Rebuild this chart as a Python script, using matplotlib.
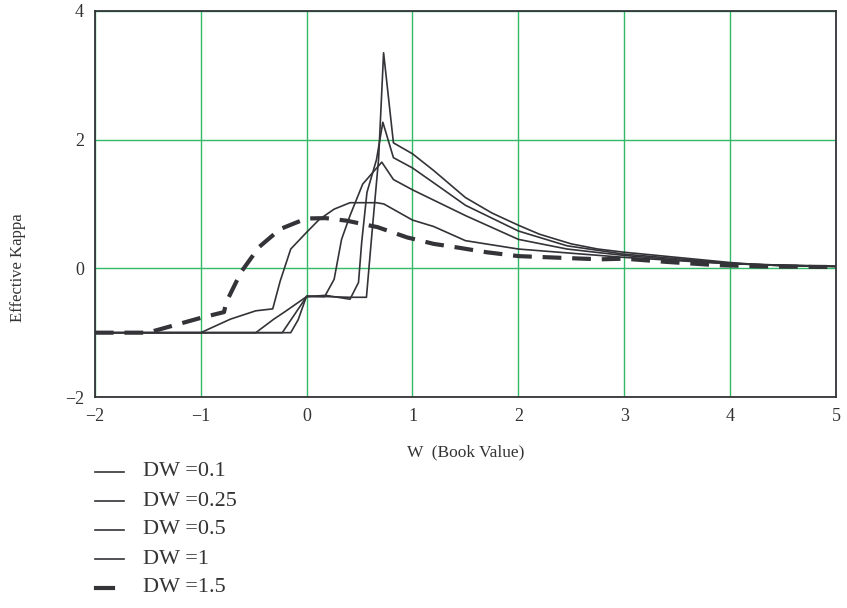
import matplotlib.pyplot as plt
from matplotlib.lines import Line2D

plt.rcParams['font.family'] = ['Liberation Serif', 'DejaVu Serif']

# DW = 0.1
x_01 = [-2, -0.15, -0.08, 0, 0.2, 0.4, 0.565, 0.62, 0.68, 0.727, 0.82, 1.0, 1.2, 1.5,
        1.75, 2.0, 2.2, 2.5, 2.75, 3.0, 3.25, 3.5, 3.75, 4.0, 4.25, 4.5, 5.0]
y_01 = [-1, -1, -0.8, -0.43, -0.44, -0.45, -0.45, 0.6, 1.7, 3.35, 1.95, 1.78, 1.52, 1.1,
        0.86, 0.67, 0.53, 0.38, 0.3, 0.25, 0.21, 0.17, 0.13, 0.09, 0.06, 0.04, 0.03]

# DW = 0.25
x_025 = [-2, -0.23, 0, 0.18, 0.41, 0.49, 0.52, 0.57, 0.66, 0.72, 0.82, 1.0, 1.26, 1.5,
         2.0, 2.46, 3.0, 3.5, 4.0, 4.5, 5.0]
y_025 = [-1, -1, -0.44, -0.42, -0.48, -0.22, 0.4, 1.18, 1.69, 2.27, 1.72, 1.56, 1.26, 0.98,
         0.58, 0.35, 0.22, 0.15, 0.08, 0.04, 0.03]

# DW = 0.5
x_05 = [-2, -0.48, -0.31, -0.21, 0, 0.17, 0.26, 0.33, 0.41, 0.53, 0.71, 0.82, 1.0, 1.5,
        2.0, 2.46, 3.0, 3.5, 4.0, 5.0]
y_05 = [-1, -1, -0.79, -0.68, -0.44, -0.44, -0.17, 0.45, 0.82, 1.31, 1.65, 1.38, 1.22, 0.82,
        0.45, 0.3, 0.2, 0.13, 0.07, 0.03]

# DW = 1
x_1 = [-2, -1.0, -0.72, -0.48, -0.32, -0.25, -0.15, 0, 0.12, 0.26, 0.41, 0.66, 0.73, 1.0,
       1.2, 1.5, 2.0, 2.46, 3.0, 3.5, 4.0, 5.0]
y_1 = [-1, -1, -0.79, -0.66, -0.63, -0.2, 0.3, 0.56, 0.76, 0.92, 1.02, 1.02, 1.0, 0.75,
       0.65, 0.43, 0.3, 0.24, 0.17, 0.12, 0.07, 0.03]

# DW = 1.5
x_15 = [-2, -1.5, -1.0, -0.78, -0.76, -0.62, -0.45, -0.25, -0.1, 0, 0.18, 0.38, 0.67, 0.95,
        1.2, 1.4, 1.7, 2.0, 2.3, 2.77, 3.0, 3.4, 3.87, 4.3, 5.0]
y_15 = [-1, -1, -0.77, -0.68, -0.53, -0.06, 0.33, 0.61, 0.71, 0.775, 0.78, 0.74, 0.64, 0.48,
        0.38, 0.33, 0.25, 0.19, 0.17, 0.14, 0.15, 0.10, 0.05, 0.03, 0.02]

labels = ['DW =0.1', 'DW =0.25', 'DW =0.5', 'DW =1', 'DW =1.5']
xticks = [-2, -1, 0, 1, 2, 3, 4, 5]
yticks = [-2, 0, 2, 4]

line_col = '#333338'
grid_col = '#33b866'
W = 847.0
H = 608.0

fig = plt.figure(figsize=(8.47, 6.08), dpi=100)
ax = fig.add_axes([0.112, 0.347, 0.875, 0.635])

for xs, ys in [(x_01, y_01), (x_025, y_025), (x_05, y_05), (x_1, y_1)]:
    ax.plot(xs, ys, color=line_col, lw=1.2)
ax.plot(x_15, y_15, color=line_col, lw=3, dashes=(4.5, 2.6))

ax.set_xlim(-2, 5)
ax.set_ylim(-2, 4)
ax.set_xticks(xticks)
ax.set_yticks(yticks)
ax.set_xticklabels([str(t).replace('-', '\u2212') for t in xticks])
ax.set_yticklabels([str(t).replace('-', '\u2212') for t in yticks])
ax.tick_params(length=0, labelsize=13, colors='#333333', pad=8)
ax.grid(True, color=grid_col, lw=1)
ax.set_axisbelow(True)
for s in ax.spines.values():
    s.set_color('#333338')
    s.set_linewidth(1.3)

ax.set_xlabel('W  (Book Value)', fontsize=12.5, color='#333333', labelpad=14)
fig.text(18 / W, 1 - 268 / H, 'Effective Kappa', rotation=90, fontsize=12,
         color='#333333', ha='center', va='center')

# legend drawn by hand below the axes
leg_y = [472, 501, 530, 559, 588]
for i, lab in enumerate(labels):
    yy = 1 - leg_y[i] / H
    if i < 4:
        fig.add_artist(Line2D([95 / W, 124 / W], [yy, yy], color=line_col, lw=1.2))
    else:
        fig.add_artist(Line2D([96 / W, 113 / W], [yy, yy], color=line_col, lw=3))
    fig.text(143 / W, yy, lab, fontsize=16, va='center', ha='left', color='#333333')

fig.savefig('out.png', dpi=100)
